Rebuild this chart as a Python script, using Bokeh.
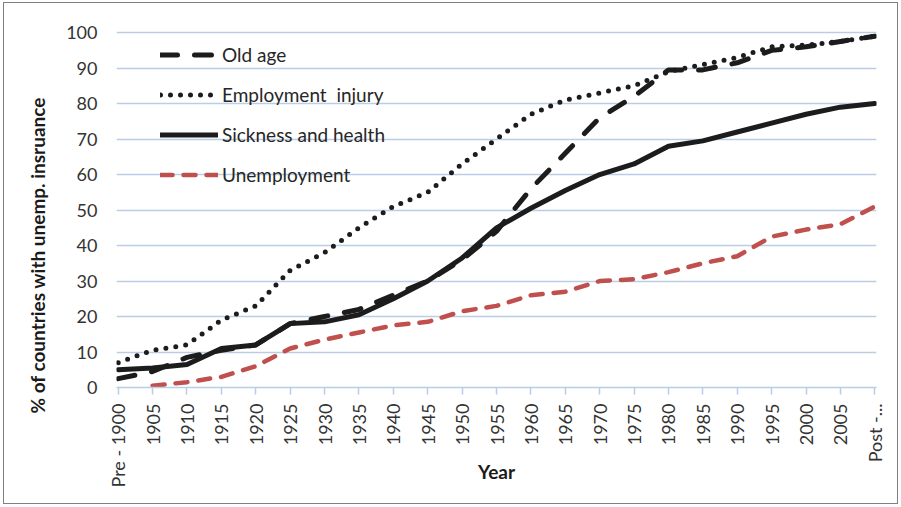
import math
from bokeh.plotting import figure
from bokeh.models import Range1d, FixedTicker, Legend, LegendItem, Title
from bokeh.embed import file_html
from bokeh.resources import INLINE

NaN = float("nan")

categories = ["Pre - 1900", "1905", "1910", "1915", "1920", "1925", "1930", "1935",
              "1940", "1945", "1950", "1955", "1960", "1965", "1970", "1975",
              "1980", "1985", "1990", "1995", "2000", "2005", "Post -..."]

old_age = [2.5, 4.5, 8.5, 10.5, 12, 18, 20, 22, 26, 30, 36, 44, 56, 66, 76, 82,
           89.5, 89.5, 91.5, 95, 96, 97.5, 99]
employment_injury = [7, 10.5, 12, 19, 23, 33, 38, 45, 51, 55, 63, 70, 77, 81, 83, 85,
                     89, 91, 93, 96, 96.5, 97.5, 99]
sickness_health = [5, 5.5, 6.5, 11, 12, 18, 18.5, 20.5, 25, 30, 36.5, 45, 50.5, 55.5,
                   60, 63, 68, 69.5, 72, 74.5, 77, 79, 80]
unemployment = [NaN, 0.5, 1.5, 3, 6, 11, 13.5, 15.5, 17.5, 18.5, 21.5, 23, 26, 27,
                30, 30.5, 32.5, 35, 37, 42.5, 44.5, 46, 51]

y_ticks = list(range(0, 101, 10))

FONT = "Lato"
GRID = "#b9cde5"

x = list(range(len(categories)))

p = figure(width=895, height=502, output_backend="svg", toolbar_location=None,
           x_range=Range1d(-0.05, len(categories) - 1 + 0.05),
           y_range=Range1d(0, 100.6),
           min_border_left=112, min_border_right=23, min_border_top=27,
           min_border_bottom=118,
           styles={"border": "1px solid #808080", "margin-left": "3px",
                   "margin-top": "2px"})
p.outline_line_color = None
p.background_fill_color = "white"
p.border_fill_color = "white"

# grid
p.xgrid.visible = False
p.ygrid.ticker = FixedTicker(ticks=y_ticks)
p.ygrid.grid_line_color = GRID
p.ygrid.grid_line_width = 1.4

# x axis
p.xaxis.ticker = FixedTicker(ticks=x)
p.xaxis.major_label_overrides = {i: lab for i, lab in enumerate(categories)}
p.xaxis.major_label_orientation = math.pi / 2
p.xaxis.axis_line_color = GRID
p.xaxis.axis_line_width = 1.5
p.xaxis.major_tick_line_color = GRID
p.xaxis.major_tick_line_width = 1.5
p.xaxis.major_tick_out = 7
p.xaxis.major_tick_in = 0
p.xaxis.minor_tick_line_color = None
p.xaxis.major_label_standoff = 9
p.xaxis.major_label_text_font = FONT
p.xaxis.major_label_text_font_size = "18px"
p.xaxis.major_label_text_color = "#333333"
p.xaxis.axis_label = "Year"
p.xaxis.axis_label_standoff = -30
p.xaxis.axis_label_text_font = FONT
p.xaxis.axis_label_text_font_style = "bold"
p.xaxis.axis_label_text_font_size = "19px"
p.xaxis.axis_label_text_color = "#1a1a1a"

# y axis
p.yaxis.ticker = FixedTicker(ticks=y_ticks)
p.yaxis.axis_line_color = None
p.yaxis.major_tick_line_color = None
p.yaxis.minor_tick_line_color = None
p.yaxis.major_tick_out = 0
p.yaxis.major_tick_in = 0
p.yaxis.major_label_standoff = 19
p.yaxis.major_label_text_font = FONT
p.yaxis.major_label_text_font_size = "18px"
p.yaxis.major_label_text_color = "#333333"

# y axis title as a left-side title, shifted to match the original placement
ytitle = Title(text="% of countries with unemp. insruance", align="left", offset=-26,
               text_font=FONT, text_font_style="bold", text_font_size="19px",
               text_color="#1a1a1a", standoff=30)
p.add_layout(ytitle, "left")

# series
r_old = p.line(x, old_age, line_color="#1c1c1c", line_width=5,
               line_dash="17 17", line_cap="round", line_join="round")
r_emp = p.line(x, employment_injury, line_color="#1c1c1c", line_width=5,
               line_dash="0 10", line_cap="round", line_join="round")
r_sick = p.line(x, sickness_health, line_color="#1c1c1c", line_width=5,
                line_cap="round", line_join="round")
r_unemp = p.line(x, unemployment, line_color="#c0504d", line_width=4.5,
                 line_dash="12 11", line_cap="round", line_join="round")

legend = Legend(items=[
    LegendItem(label="Old age", renderers=[r_old]),
    LegendItem(label="Employment  injury", renderers=[r_emp]),
    LegendItem(label="Sickness and health", renderers=[r_sick]),
    LegendItem(label="Unemployment", renderers=[r_unemp]),
], location=(44, 201))
legend.padding = 0
legend.margin = 0
legend.spacing = 17
legend.glyph_width = 58
legend.glyph_height = 21
legend.label_height = 21
legend.label_standoff = 4
legend.border_line_color = None
legend.background_fill_alpha = 0
legend.label_text_font = FONT
legend.label_text_font_size = "19px"
legend.label_text_color = "#262626"
p.add_layout(legend)

open("out.html", "w").write(file_html(p, INLINE))
